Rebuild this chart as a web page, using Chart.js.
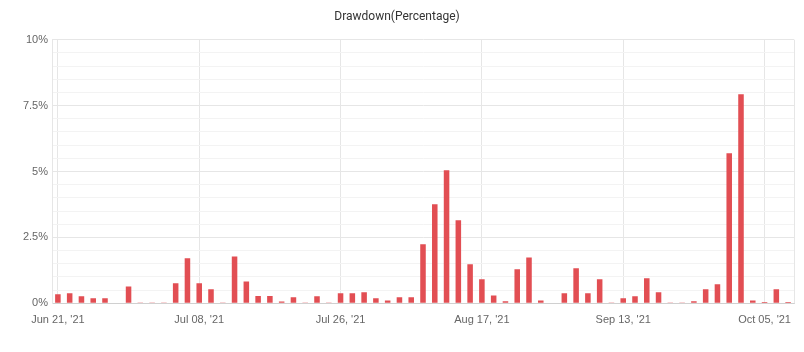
<!DOCTYPE html>
<html><head><meta charset="utf-8">
<script src="https://cdn.jsdelivr.net/npm/chart.js@4"></script>
<style>html,body{margin:0;padding:0;background:#fff}#wrap{width:804px;height:352px;position:relative}</style>
</head><body><div id="wrap"><canvas id="c"></canvas></div>
<script>
const chartTitle = 'Drawdown(Percentage)';
const drawdown = [
  0.34, 0.38, 0.27, 0.19, 0.19, 0, 0.64, 0.03, 0.03, 0.03,
  0.76, 1.71, 0.76, 0.53, 0.03, 1.78, 0.83, 0.28, 0.28, 0.07,
  0.23, 0.03, 0.27, 0.03, 0.38, 0.38, 0.42, 0.19, 0.11, 0.23,
  0.23, 2.24, 3.76, 5.05, 3.15, 1.48, 0.91, 0.30, 0.08, 1.29,
  1.74, 0.11, 0, 0.38, 1.33, 0.38, 0.91, 0.03, 0.19, 0.27,
  0.95, 0.42, 0.03, 0.03, 0.08, 0.53, 0.72, 5.69, 7.93, 0.11,
  0.05, 0.53, 0.05
];
const categories = drawdown.map((_, i) => i);
const tickIndex = [0, 12, 24, 36, 48, 60];
const tickLabels = ["Jun 21, '21", "Jul 08, '21", "Jul 26, '21", "Aug 17, '21", "Sep 13, '21", "Oct 05, '21"];
const yMax = 10;
const yMinorStep = 0.5;
const yMajorStep = 2.5;

const isMajor = v => Math.abs(v / yMajorStep - Math.round(v / yMajorStep)) < 1e-6;

const rightBorder = {
  id: 'rightBorder',
  afterDraw(chart) {
    const {ctx, chartArea: a} = chart;
    ctx.save();
    ctx.strokeStyle = '#e6e6e6';
    ctx.lineWidth = 1;
    ctx.beginPath();
    ctx.moveTo(Math.round(a.right) + 0.5, a.top);
    ctx.lineTo(Math.round(a.right) + 0.5, a.bottom);
    ctx.stroke();
    ctx.restore();
  }
};

new Chart(document.getElementById('c'), {
  type: 'bar',
  data: {
    labels: categories,
    datasets: [{
      data: drawdown,
      backgroundColor: '#e24e53',
      borderWidth: 0,
      barPercentage: 0.47,
      categoryPercentage: 1
    }]
  },
  options: {
    responsive: true,
    maintainAspectRatio: false,
    animation: false,
    layout: {padding: {left: 0, right: 10, top: 0, bottom: 0}},
    plugins: {
      legend: {display: false},
      tooltip: {enabled: false},
      title: {
        display: true,
        text: chartTitle,
        color: '#333',
        font: {family: 'Roboto', size: 12, weight: 'normal'},
        padding: {top: 10, bottom: 15.3}
      }
    },
    scales: {
      x: {
        type: 'category',
        offset: true,
        grid: {
          offset: false,
          drawTicks: false,
          color: ctx => tickIndex.includes(ctx.index) ? '#e6e6e6' : 'rgba(0,0,0,0)'
        },
        border: {display: true, color: '#d0d0d0'},
        ticks: {
          autoSkip: false,
          maxRotation: 0,
          padding: 10,
          color: '#666',
          font: {family: 'Liberation Sans', size: 11},
          callback: (v, i) => { const k = tickIndex.indexOf(i); return k >= 0 ? tickLabels[k] : ''; }
        },
        afterFit: s => { s.height = 48.7; }
      },
      y: {
        min: 0,
        max: yMax,
        grid: {
          drawTicks: false,
          color: ctx => ctx.tick.value === 0 ? '#d0d0d0' : (isMajor(ctx.tick.value) ? '#e6e6e6' : '#f3f3f3')
        },
        border: {display: true, color: '#e6e6e6'},
        ticks: {
          stepSize: yMinorStep,
          autoSkip: false,
          padding: 4,
          color: '#666',
          font: {family: 'Liberation Sans', size: 11},
          callback: v => isMajor(v) ? (+v.toFixed(1)) + '%' : ''
        },
        afterFit: s => { s.width = 52; }
      }
    }
  },
  plugins: [rightBorder]
});
</script>
</body></html>
